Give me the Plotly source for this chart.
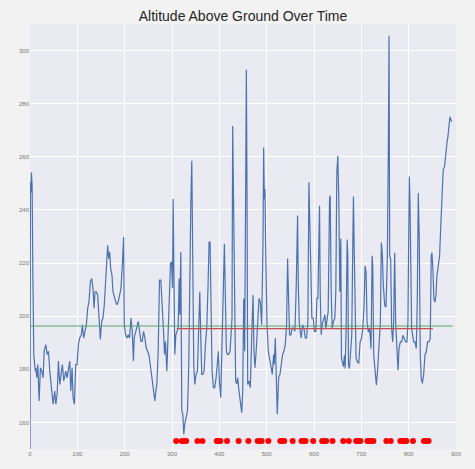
import plotly.graph_objects as go

# Altitude trace (time index, altitude)
alt_x = [0, 1, 2, 3, 4.5, 6, 8, 11, 12.3, 14.4, 16.5, 19.3, 22, 25, 27.8, 29.9, 33.4, 36.2, 39, 41.8,
         45.3, 48.8, 52.3, 54.5, 57.3, 60.1, 62.9, 65.7, 68.5, 71.3, 75.5, 78.3, 81.2, 84, 86.1, 88.9,
         91, 93.8, 96.6, 99.4, 102.2, 105, 108.6, 110.7, 113.5, 116.3, 119.1, 121.9, 124.7, 127.5,
         130.3, 133.1, 135.3, 137.4, 140.2, 143, 145.8, 148.6, 151.4, 154.2, 157, 159.8, 161.9, 164.1,
         166.2, 168.3, 170.4, 173.2, 175.3, 178.1, 181, 183.8, 186.6, 189.4, 192.2, 195, 197.8, 199.2,
         202, 204.8, 207.6, 210.4, 213.3, 216.1, 218.5, 220.2, 223, 225.9, 228.7, 231.5, 234.3, 237.1,
         239.9, 242.7, 245.5, 248.3, 251.1, 254, 256.8, 259.6, 262.4, 263.8, 265.9, 268, 270.8, 273.6,
         276.4, 279.3, 282.1, 284.2, 286.3, 289.1, 291.9, 294.7, 296.8, 299, 301.1, 302.4, 303.8, 305.9,
         308.1, 310.2, 313, 315.1, 316.5, 318.6, 320.7, 322.8, 324.9, 327, 329.9, 332.7, 335.5, 338.3,
         339.7, 341.8, 343.9, 346, 348.1, 350.9, 353.7, 356.6, 358.7, 360.8, 362.9, 365, 367.8, 370.6,
         373.4, 376.2, 378.3, 380.4, 382.5, 384.7, 387.5, 390.3, 393.1, 395.9, 398, 400.1, 403, 405.8,
         408.6, 410.7, 412.8, 414.9, 417, 419.8, 422.6, 424.7, 426.8, 428.2, 430.3, 432.4, 434.5, 436.6,
         438.8, 441.6, 444.4, 447.3, 449.4, 451.5, 453.6, 455.7, 457.1, 458.5, 459.9, 462.7, 465.5,
         468.3, 471.1, 473.2, 475.4, 478.2, 481, 483.8, 486.6, 489.4, 492.2, 493.6, 495, 496.4, 497.8,
         500.7, 503.5, 506.3, 509.1, 511.9, 514.7, 516.1, 518.2, 520.3, 522.4, 525.3, 528.1, 530.9,
         533.7, 536.5, 539.3, 542.1, 544.2, 546.3, 548.4, 551.2, 554, 556.9, 559.7, 562.5, 563.9, 565.3,
         566.7, 568.8, 570.9, 573, 575.8, 578.7, 581.5, 584.3, 587.1, 589.2, 591.3, 593.4, 595.5, 598.3,
         601.1, 604, 606.1, 608.2, 610.3, 611.7, 613.1, 615.2, 617.3, 620.1, 623, 625.1, 627.1, 630,
         632.8, 634.2, 636.3, 638.4, 641.2, 644, 646.1, 648.2, 650.3, 652.4, 654.5, 656.6, 658, 660.2,
         662.2, 664.3, 665.7, 667.9, 670, 671.4, 672.8, 674.9, 677.7, 679.8, 681.9, 683.3, 684.7, 686.8,
         688.9, 691.7, 694.5, 697.4, 700.2, 703, 705.8, 707.9, 710, 712.1, 714.9, 717.7, 720.5, 722.7,
         724.1, 726.2, 729, 731.8, 734.6, 737.4, 740.2, 742.3, 744.4, 746.5, 749.4, 752.2, 755, 757.1,
         758.5, 759.9, 762, 764.1, 766.2, 768.3, 770.4, 772.5, 775.4, 777.5, 779.6, 782.4, 785.2, 788,
         790.8, 793.6, 796.4, 798.5, 800, 801.4, 802.8, 804.2, 806.3, 808.4, 810.5, 813.3, 816.1, 818.2,
         820.3, 822.4, 824.5, 826.6, 828.8, 831.6, 834.4, 837.2, 840, 842.8, 845.6, 847.7, 849.2, 851.2,
         853.3, 855.5, 857.6, 859.7, 862.5, 865.3, 868.1, 870.9, 873, 875.8, 878, 880.8, 882.9, 885,
         887.2, 889.3, 891.4]
alt_y = [148, 250.4, 246.6, 254.1, 249, 216.7, 185.6, 179.3, 180.6, 176.8, 181.8, 168.1, 180.6, 179.3,
         176.8, 186.8, 189.3, 185.6, 186.8, 179.3, 171.8, 166.9, 171.8, 166.9, 170.6, 183.1, 174.3,
         179.3, 181.8, 175.6, 179.3, 176.8, 180.6, 183.1, 171.8, 180.6, 169.3, 166.9, 181.8, 181.8,
         189.3, 191.8, 193, 196.8, 191.8, 194.3, 196.8, 203, 205.5, 213, 214.2, 210.5, 203, 209.2,
         209.2, 208, 196.8, 191.2, 198, 199.3, 204.3, 213, 219.2, 226.7, 221.7, 224.2, 218, 215.5,
         209.2, 206.7, 205.5, 204.3, 205.5, 208, 210.5, 219.2, 229.8, 196.8, 193, 191.8, 193, 191.8,
         199.3, 194.3, 183.1, 191.8, 194.3, 196.8, 198, 194.3, 190.5, 190.5, 194.3, 191.8, 188, 186.8,
         185.6, 181.8, 178.1, 174.3, 170.6, 168.1, 171.8, 174.3, 186.8, 213.6, 213.6, 200.5, 194.3,
         185.6, 190.5, 179.3, 194.3, 211.7, 219.8, 220.5, 210.5, 244.1, 206.7, 185.6, 193, 194.3, 195.5,
         214.2, 200.5, 224.2, 164.4, 163.1, 155.6, 159.4, 161.9, 164.4, 181.8, 240.4, 241.6, 258.5,
         206.7, 181.8, 174.3, 178.1, 179.3, 200.5, 209.2, 191.8, 178.1, 178.1, 179.3, 189.3, 195.5,
         211.7, 227.9, 227.9, 200.5, 179.3, 173.1, 173.1, 176.8, 184.3, 186.8, 175.6, 169.3, 190.5,
         219.2, 227.3, 206.7, 186.8, 185.6, 185.6, 186.8, 194.3, 199.3, 271.6, 231.7, 194.3, 175.6,
         174.5, 176.8, 171.8, 166.9, 163.7, 171.8, 206.7, 186.8, 246.6, 292.8, 246.6, 174.3, 175.6,
         173.1, 191.8, 208, 186.8, 180.6, 188, 199.3, 206.7, 205.5, 196.8, 226.7, 263.5, 244.1, 247.9,
         226.7, 196.8, 186.8, 184.3, 180.6, 178.1, 185.6, 181.8, 191.8, 171.8, 163.1, 176.8, 178.1,
         181.8, 185.6, 186.8, 189.3, 196.8, 221.7, 206.7, 193, 193, 195.5, 195.5, 194.3, 211.7, 225.4,
         237.9, 212.9, 198, 194.3, 191.8, 196.8, 195.5, 191.8, 191.8, 198, 250.4, 234.2, 214.2, 199.3,
         199.3, 194.3, 194.3, 206.7, 206.7, 221.7, 241.6, 209.2, 193, 196.8, 199.3, 200.5, 195.5, 198,
         201.8, 244.1, 245.4, 209.2, 195.5, 198, 199.3, 209.2, 254.1, 260.3, 244.1, 209.2, 229.2, 184.3,
         181.8, 181, 185.3, 180.3, 195.3, 228.9, 222.7, 181.6, 180.3, 190.3, 192.8, 226.4, 245.1, 227.7,
         197.8, 184.1, 182.8, 182.2, 190.3, 191.5, 195.3, 204, 219, 216.5, 197.8, 194, 195.3, 187.8,
         222.7, 219, 185.3, 180.3, 174.1, 180.3, 187.8, 197.8, 227.7, 222.7, 211.5, 204, 203.4, 222.7,
         263.8, 305.6, 222.7, 221.5, 195.3, 190.3, 197.8, 223.9, 197.8, 185.3, 179.7, 187.8, 190.3,
         190.3, 192.8, 191.5, 190.3, 190.3, 197.8, 228.9, 252.6, 242.6, 222.7, 195.3, 192.8, 190.3,
         190.3, 187.8, 206.5, 246.4, 228.9, 185.3, 176.6, 174.7, 177.8, 185.3, 186.6, 190.3, 190.3,
         191.5, 222.7, 223.9, 217.7, 206.5, 205.3, 207.7, 215.2, 219, 222.7, 235.2, 247.6, 255.1, 256.4,
         261.3, 265.1, 267.6, 272.6, 275.1, 273.8, 273.2]

# Reference levels
overall_mean = 196.3
overall_span = [0, 893]
segment_mean = 195.3
segment_span = [310, 851]

# Event markers
event_x = [308.8, 320.8, 325.7, 329.9, 353.8, 364.3, 394.6, 398, 402.2, 416.3, 440.8, 461.3, 481,
           485.2, 489.4, 503.5, 528.8, 533, 537.2, 554.8, 573.7, 578, 582.2, 598.3, 617.3, 621.5,
           625.7, 639.1, 661.6, 673.5, 689, 693.2, 698.1, 712.9, 717.1, 721.3, 725.5, 752.9, 762,
           782.4, 786.6, 790.8, 795.1, 809.1, 832.3, 837.2, 842.2]
event_level = 153

x_ticks = [0, 100, 200, 300, 400, 500, 600, 700, 800, 900]
y_ticks = [160, 180, 200, 220, 240, 260, 280, 300]

fig = go.Figure()
fig.add_trace(go.Scatter(x=alt_x, y=alt_y, mode="lines",
                         line=dict(color="#4C72B0", width=1.2), showlegend=False))
fig.add_trace(go.Scatter(x=overall_span, y=[overall_mean] * 2, mode="lines",
                         line=dict(color="#55A868", width=1.2), showlegend=False))
fig.add_trace(go.Scatter(x=segment_span, y=[segment_mean] * 2, mode="lines",
                         line=dict(color="#C44E52", width=1.2), showlegend=False))
fig.add_trace(go.Scatter(x=event_x, y=[event_level] * len(event_x), mode="markers",
                         marker=dict(color="#ff0000", size=6, line=dict(width=0)),
                         showlegend=False))

fig.update_layout(
    width=475, height=469,
    margin=dict(l=29.5, r=18.5, t=24, b=17),
    paper_bgcolor="#f2f2f2",
    plot_bgcolor="#EAEAF2",
    title=dict(text="Altitude Above Ground Over Time", x=0.5, xref="paper", xanchor="center",
               y=1 - 16.5 / 469, yanchor="middle",
               font=dict(family="Liberation Sans, Arial, sans-serif", size=14, color="#262626")),
    font=dict(family="Liberation Sans, Arial, sans-serif", size=6, color="#777777"),
)
fig.update_xaxes(range=[0, 900], tickvals=x_ticks, showgrid=True, gridcolor="white", gridwidth=1,
                 zeroline=False, showline=False, ticks="", ticklen=0)
fig.update_yaxes(range=[150, 310], tickvals=y_ticks, showgrid=True, gridcolor="white", gridwidth=1,
                 zeroline=False, showline=False, ticks="", ticklen=0)

fig.write_html("out.html")
